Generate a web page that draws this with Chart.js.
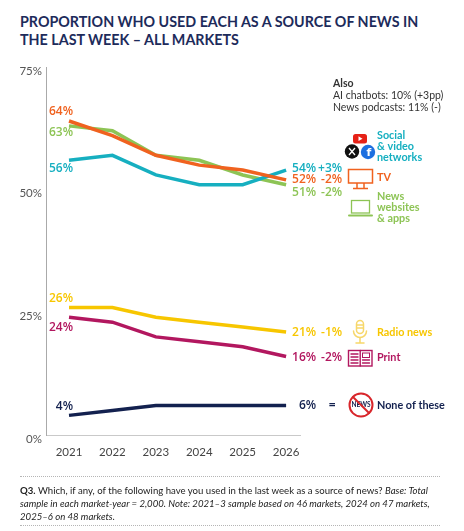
<!DOCTYPE html>
<html>
<head>
<meta charset="utf-8">
<script src="https://cdn.jsdelivr.net/npm/chart.js@4.4.1/dist/chart.umd.min.js"></script>
<style>
    html, body { margin: 0; padding: 0; background: #fff; }
    body { width: 464px; height: 531px; position: relative; overflow: hidden; font-family: Lato, "Open Sans", sans-serif; }
    #title { position: absolute; left: 20px; top: 13px; width: 440px; font-weight: 700; font-size: 14.3px; line-height: 18px; color: #1d2b5b; }
    #chart { position: absolute; left: 0; top: 0; }
    #note { position: absolute; left: 20px; top: 476px; width: 420px; height: 50px; box-sizing: border-box; border-top: 1px dotted #b5b5b5; border-bottom: 1px dotted #b5b5b5; padding-top: 7px; font-size: 9.6px; line-height: 13px; color: #222; }
</style>
</head>
<body>
<div id="title">PROPORTION WHO USED EACH AS A SOURCE OF NEWS IN<br>THE LAST WEEK – ALL MARKETS</div>
<canvas id="chart" width="464" height="531"></canvas>
<div id="note"><b>Q3.</b> Which, if any, of the following have you used in the last week as a source of news? <i>Base: Total sample in each market-year = 2,000. Note: 2021–3 sample based on 46 markets, 2024 on 47 markets, 2025–6 on 48 markets.</i></div>

<script>
const years = [2021, 2022, 2023, 2024, 2025, 2026];
const yTicks = [0, 25, 50, 75];

const tv = [64, 61, 57, 55, 54, 52];
const social = [56, 57, 53, 51, 51, 54];
const websites = [63, 62, 57, 56, 53, 51];
const radio = [26, 26, 24, 23, 22, 21];
const print = [24, 23, 20, 19, 18, 16];
const noneOfThese = [4, 5, 6, 6, 6, 6];

const changes = ['-2%', '+3%', '-2%', '-1%', '-2%', '='];

const alsoLines = ['AI chatbots: 10% (+3pp)', 'News podcasts: 11% (-)'];

// label placement per series (start label dy, end label dy)
const series = [
    { name: 'TV', data: tv, color: '#f0621f', startDy: -9, endDy: 0 },
    { name: 'Social & video networks', data: social, color: '#16afc0', startDy: 8, endDy: -1 },
    { name: 'News websites & apps', data: websites, color: '#8dc455', startDy: 7, endDy: 8 },
    { name: 'Radio news', data: radio, color: '#f7c600', startDy: -9, endDy: 1 },
    { name: 'Print', data: print, color: '#b2175f', startDy: 10, endDy: 1 },
    { name: 'None of these', data: noneOfThese, color: '#13214f', startDy: -9, endDy: 0 }
];

const labelPlugin = {
    id: 'lineLabels',
    afterDatasetsDraw(chart) {
        const ctx = chart.ctx;
        const xs = chart.scales.x;
        const ys = chart.scales.y;
        const x0 = xs.getPixelForValue(years[0]);
        const x1 = xs.getPixelForValue(years[years.length - 1]);
        ctx.save();
        ctx.textBaseline = 'middle';
        ctx.font = '600 12px "Open Sans"';
        series.forEach((s, i) => {
            const first = s.data[0];
            const last = s.data[s.data.length - 1];
            ctx.fillStyle = s.color;
            ctx.textAlign = 'right';
            ctx.fillText(first + '%', x0 + 4, ys.getPixelForValue(first) + s.startDy);
            const ey = ys.getPixelForValue(last) + s.endDy;
            ctx.fillText(last + '%', x1 + 30, ey);
            if (changes[i] === '=') {
                ctx.textAlign = 'center';
                ctx.fillText('=', x1 + 46, ey);
            } else {
                ctx.fillText(changes[i], x1 + 56, ey);
            }
        });
        ctx.restore();
    }
};

function stackText(ctx, lines, x, y, lh) {
    lines.forEach((t, i) => ctx.fillText(t, x, y + i * lh));
}

const legendPlugin = {
    id: 'iconLegend',
    afterDraw(chart) {
        const ctx = chart.ctx;
        ctx.save();
        ctx.textBaseline = 'middle';
        ctx.textAlign = 'left';

        // "Also" block
        ctx.fillStyle = '#333';
        ctx.font = 'bold 10.5px Lato';
        ctx.fillText('Also', 333, 84);
        ctx.font = '10.5px Lato';
        stackText(ctx, alsoLines, 333, 96, 11.5);

        // legend text
        ctx.font = 'bold 10.8px Lato';
        ctx.fillStyle = series[1].color;
        stackText(ctx, ['Social', '& video', 'networks'], 377, 136, 11);
        ctx.fillStyle = series[0].color;
        ctx.fillText('TV', 377, 178);
        ctx.fillStyle = series[2].color;
        stackText(ctx, ['News', 'websites', '& apps'], 377, 197, 11);
        ctx.fillStyle = series[3].color;
        ctx.fillText('Radio news', 377, 333);
        ctx.fillStyle = series[4].color;
        ctx.fillText('Print', 377, 358);
        ctx.fillStyle = series[5].color;
        ctx.fillText('None of these', 377, 406);

        // youtube
        ctx.fillStyle = '#e62117';
        ctx.beginPath();
        ctx.roundRect(353, 134, 14, 9.5, 2.5);
        ctx.fill();
        ctx.fillStyle = '#fff';
        ctx.beginPath();
        ctx.moveTo(358.5, 136.3); ctx.lineTo(362.5, 138.7); ctx.lineTo(358.5, 141.1);
        ctx.closePath();
        ctx.fill();
        // X
        ctx.fillStyle = '#111';
        ctx.beginPath(); ctx.arc(352, 151.5, 7.2, 0, Math.PI * 2); ctx.fill();
        ctx.strokeStyle = '#fff';
        ctx.lineWidth = 1.3;
        ctx.beginPath();
        ctx.moveTo(349, 148); ctx.lineTo(355, 155);
        ctx.moveTo(355, 148); ctx.lineTo(349, 155);
        ctx.stroke();
        // facebook
        ctx.fillStyle = '#1d6fe0';
        ctx.beginPath(); ctx.arc(368, 152, 7.2, 0, Math.PI * 2); ctx.fill();
        ctx.fillStyle = '#fff';
        ctx.font = 'bold 11px "DejaVu Sans"';
        ctx.textAlign = 'center';
        ctx.fillText('f', 369, 153.5);

        // TV
        ctx.strokeStyle = series[0].color;
        ctx.lineWidth = 1.5;
        ctx.strokeRect(348.5, 169.5, 24, 13.5);
        ctx.beginPath();
        ctx.moveTo(357, 183); ctx.lineTo(357, 188);
        ctx.moveTo(364, 183); ctx.lineTo(364, 188);
        ctx.moveTo(353, 188.5); ctx.lineTo(368, 188.5);
        ctx.stroke();

        // laptop
        ctx.strokeStyle = series[2].color;
        ctx.lineWidth = 1.3;
        ctx.strokeRect(351.5, 200.5, 18, 12.5);
        ctx.lineWidth = 2;
        ctx.lineCap = 'round';
        ctx.beginPath();
        ctx.moveTo(349, 215.5); ctx.lineTo(372, 215.5);
        ctx.stroke();

        // microphone
        ctx.strokeStyle = '#f7d76a';
        ctx.lineWidth = 1.5;
        ctx.beginPath();
        ctx.roundRect(356.5, 320.5, 7, 13, 3.5);
        ctx.stroke();
        ctx.beginPath();
        ctx.moveTo(357, 325); ctx.lineTo(363, 325);
        ctx.moveTo(357, 328); ctx.lineTo(363, 328);
        ctx.stroke();
        ctx.beginPath();
        ctx.arc(360, 331, 6.5, 0, Math.PI);
        ctx.stroke();
        ctx.beginPath();
        ctx.moveTo(360, 337.5); ctx.lineTo(360, 342.5);
        ctx.moveTo(356, 343); ctx.lineTo(364, 343);
        ctx.stroke();

        // print
        ctx.strokeStyle = series[4].color;
        ctx.lineWidth = 1.4;
        ctx.strokeRect(348.5, 350.5, 23.5, 15.5);
        ctx.beginPath();
        ctx.moveTo(360.2, 350.5); ctx.lineTo(360.2, 366);
        for (let k = 0; k < 4; k++) {
            ctx.moveTo(351, 354 + k * 3); ctx.lineTo(358, 354 + k * 3);
        }
        ctx.moveTo(362.5, 360); ctx.lineTo(369.5, 360);
        ctx.moveTo(362.5, 363); ctx.lineTo(369.5, 363);
        ctx.stroke();
        ctx.lineWidth = 1;
        ctx.strokeRect(362.5, 353, 7, 4.5);

        // none of these
        ctx.fillStyle = series[5].color;
        ctx.font = 'bold 6.5px Lato';
        ctx.textAlign = 'center';
        ctx.fillText('NEWS', 361, 405);
        ctx.strokeStyle = '#d8262b';
        ctx.lineWidth = 2;
        ctx.beginPath(); ctx.arc(361, 405, 11.5, 0, Math.PI * 2); ctx.stroke();
        ctx.beginPath();
        ctx.moveTo(353, 397); ctx.lineTo(369, 413);
        ctx.stroke();

        ctx.restore();
    }
};

new Chart(document.getElementById('chart'), {
    type: 'line',
    data: {
        datasets: series.map(s => ({
            label: s.name,
            data: s.data.map((v, i) => ({ x: years[i], y: v })),
            borderColor: s.color,
            borderWidth: 3.5,
            pointRadius: 0,
            tension: 0,
            fill: false
        }))
    },
    options: {
        responsive: false,
        animation: false,
        layout: { padding: { top: 67, right: 164, left: 0, bottom: 0 } },
        plugins: {
            legend: { display: false },
            tooltip: { enabled: false }
        },
        scales: {
            x: {
                type: 'linear',
                min: 2020.47,
                max: 2026.32,
                afterBuildTicks: scale => { scale.ticks = years.map(v => ({ value: v })); },
                afterFit: scale => { scale.height = 96; },
                grid: { display: false, drawTicks: false },
                border: { display: true, color: '#c9c9c9', width: 1 },
                ticks: {
                    padding: 10,
                    color: '#444',
                    font: { family: 'Lato', size: 11.5 },
                    callback: v => String(v)
                }
            },
            y: {
                min: 0,
                max: 75,
                afterBuildTicks: scale => { scale.ticks = yTicks.map(v => ({ value: v })); },
                afterFit: scale => { scale.width = 46; },
                grid: { display: false, drawTicks: false },
                border: { display: true, color: '#aaa', width: 1 },
                ticks: {
                    padding: 4,
                    labelOffset: 4,
                    color: '#555',
                    font: { family: 'Lato', size: 11.5 },
                    callback: v => v + '%'
                }
            }
        }
    },
    plugins: [labelPlugin, legendPlugin]
});
</script>
</body>
</html>
